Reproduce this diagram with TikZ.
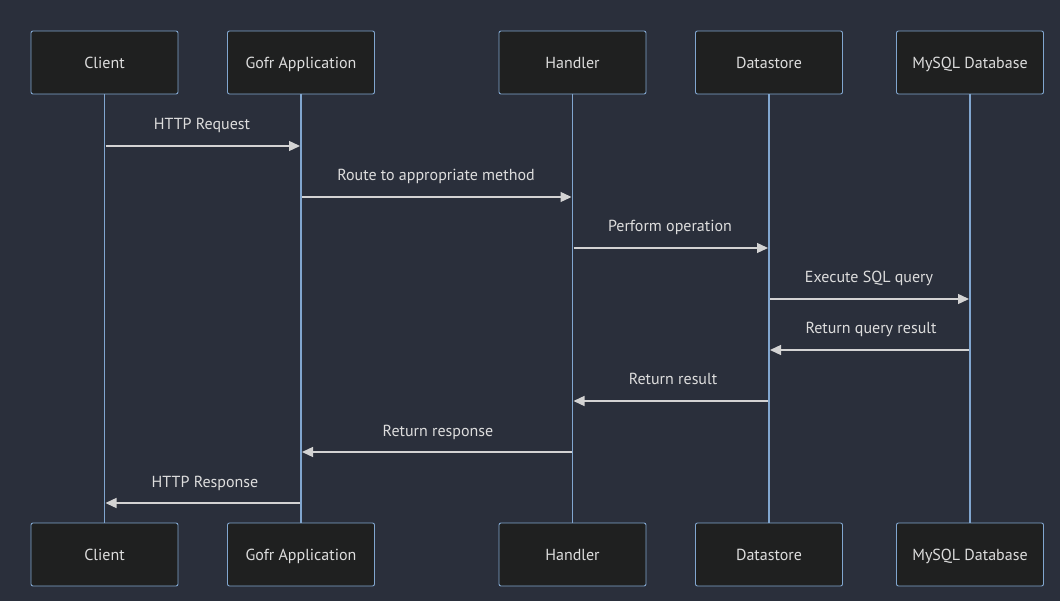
\documentclass[tikz,border=0pt]{standalone}
\usepackage{fontspec}
\setmainfont{PT Sans}
\usetikzlibrary{arrows.meta}
\definecolor{bg}{HTML}{2A2F3B}
\definecolor{boxfill}{HTML}{1F2020}
\definecolor{boxline}{HTML}{81A6CF}
\definecolor{life}{HTML}{81A6CF}
\definecolor{msg}{HTML}{D3D3D3}
\definecolor{txt}{HTML}{DDDDDD}
\begin{document}
\begin{tikzpicture}[x=1pt,y=-1pt,
  actor/.style={draw=boxline, fill=boxfill, rounded corners=2pt, line width=0.9pt,
    minimum width=147pt, minimum height=63pt, text=txt, font=\fontsize{16}{19}\selectfont,
    inner sep=0pt, text height=13pt, text depth=1pt},
  lifeline/.style={draw=life, line width=1.4pt},
  message/.style={draw=msg, line width=1.3pt, -{Triangle[length=11pt,width=10pt]}},
  mlabel/.style={text=txt, font=\fontsize{16}{19}\selectfont, inner sep=0pt,
    text height=12pt, text depth=1pt}]
\fill[bg] (0,0) rectangle (1060,601);
\useasboundingbox (0,0) rectangle (1060,601);
% top actors
\node[actor] (c1) at (104.5,62.5) {Client};
\node[actor] (g1) at (301,62.5) {Gofr Application};
\node[actor] (h1) at (572.5,62.5) {Handler};
\node[actor] (d1) at (769,62.5) {Datastore};
\node[actor] (m1) at (970,62.5) {MySQL Database};
% bottom actors
\node[actor] (c2) at (104.5,554.5) {Client};
\node[actor] (g2) at (301,554.5) {Gofr Application};
\node[actor] (h2) at (572.5,554.5) {Handler};
\node[actor] (d2) at (769,554.5) {Datastore};
\node[actor] (m2) at (970,554.5) {MySQL Database};
% lifelines
\draw[lifeline] (c1.south) -- (c2.north);
\draw[lifeline] (g1.south) -- (g2.north);
\draw[lifeline] (h1.south) -- (h2.north);
\draw[lifeline] (d1.south) -- (d2.north);
\draw[lifeline] (m1.south) -- (m2.north);
% message anchor points
\coordinate (c146) at (c1.south |- 0,146); \coordinate (g146) at (g1.south |- 0,146);
\coordinate (g197) at (g1.south |- 0,197); \coordinate (h197) at (h1.south |- 0,197);
\coordinate (h248) at (h1.south |- 0,248); \coordinate (d248) at (d1.south |- 0,248);
\coordinate (d299) at (d1.south |- 0,299); \coordinate (m299) at (m1.south |- 0,299);
\coordinate (m350) at (m1.south |- 0,350); \coordinate (d350) at (d1.south |- 0,350);
\coordinate (d401) at (d1.south |- 0,401); \coordinate (h401) at (h1.south |- 0,401);
\coordinate (h452) at (h1.south |- 0,452); \coordinate (g452) at (g1.south |- 0,452);
\coordinate (g503) at (g1.south |- 0,503); \coordinate (c503) at (c1.south |- 0,503);
% messages
\draw[message, shorten <=1pt, shorten >=1pt] (c146) -- (g146);
\node[mlabel] (l1) at (202,124) {HTTP Request};
\draw[message, shorten <=1pt, shorten >=1pt] (g197) -- (h197);
\node[mlabel] (l2) at (436,175) {Route to appropriate method};
\draw[message, shorten <=1pt, shorten >=1pt] (h248) -- (d248);
\node[mlabel] (l3) at (670,226) {Perform operation};
\draw[message, shorten <=1pt, shorten >=1pt] (d299) -- (m299);
\node[mlabel] (l4) at (869,277) {Execute SQL query};
\draw[message, shorten <=1pt, shorten >=1pt] (m350) -- (d350);
\node[mlabel] (l5) at (871,328) {Return query result};
\draw[message, shorten <=1pt, shorten >=1pt] (d401) -- (h401);
\node[mlabel] (l6) at (673,379) {Return result};
\draw[message, shorten <=1pt, shorten >=1pt] (h452) -- (g452);
\node[mlabel] (l7) at (438,431) {Return response};
\draw[message, shorten <=1pt, shorten >=1pt] (g503) -- (c503);
\node[mlabel] (l8) at (205,482) {HTTP Response};
\end{tikzpicture}
\end{document}
